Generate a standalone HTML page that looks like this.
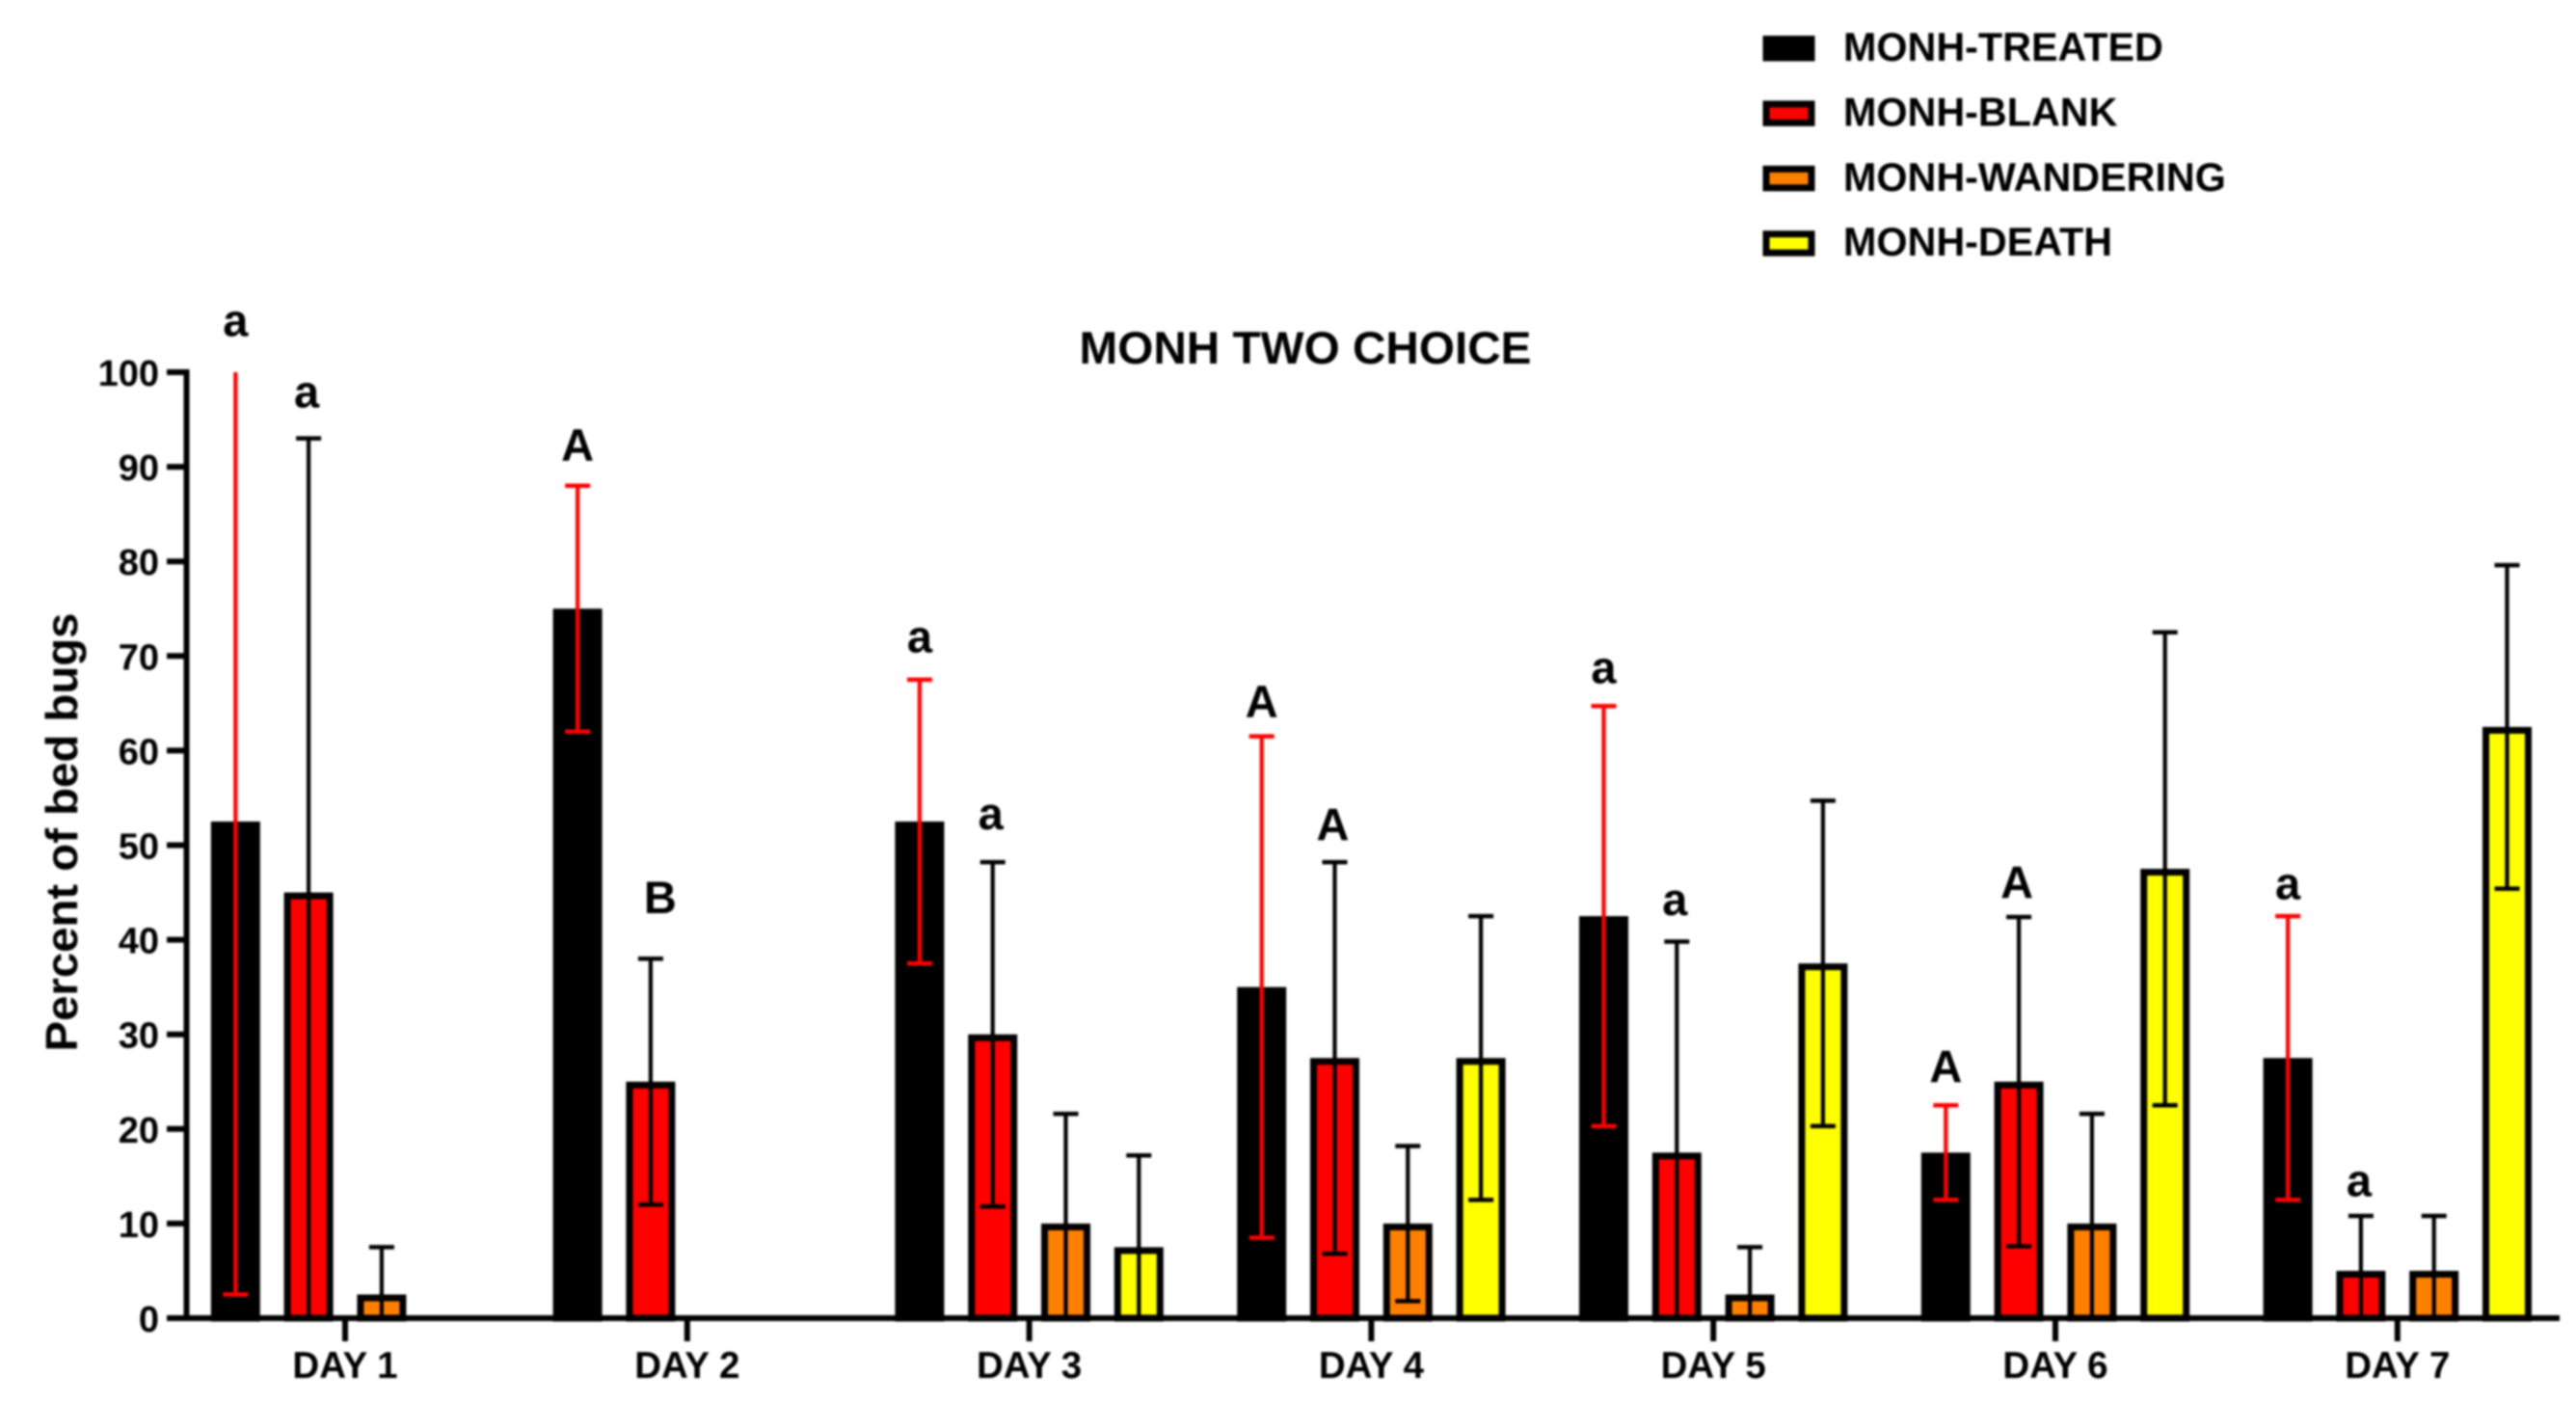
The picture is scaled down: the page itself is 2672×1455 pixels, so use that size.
<!DOCTYPE html>
<html lang="en">
<head>
<meta charset="utf-8">
<title>MONH Two Choice</title>
<style>
html,body{margin:0;padding:0;background:#fff;width:2672px;height:1455px;overflow:hidden}
svg{display:block;filter:blur(1px)}
text{font-family:"Liberation Sans",sans-serif;font-weight:700;fill:#000}
</style>
</head>
<body>
<svg id="chart" xmlns="http://www.w3.org/2000/svg" width="2672" height="1455" viewBox="0 0 2672 1455">
  <rect x="0" y="0" width="2672" height="1455" fill="#fff"/>
  <text x="1354" y="377" font-size="47" text-anchor="middle" textLength="469" lengthAdjust="spacingAndGlyphs">MONH TWO CHOICE</text>
  <text transform="translate(80 863) rotate(-90)" font-size="46" text-anchor="middle" textLength="455" lengthAdjust="spacingAndGlyphs">Percent of bed bugs</text>
  <g id="bars"></g>
  <g id="errors"></g>
  <g id="axes"></g>
  <g id="letters"></g>
  <g id="legend"></g>
</svg>
<script>
const days = ['DAY 1','DAY 2','DAY 3','DAY 4','DAY 5','DAY 6','DAY 7'];
const yTicks = [0,10,20,30,40,50,60,70,80,90,100];
const seriesNames = ['MONH-TREATED','MONH-BLANK','MONH-WANDERING','MONH-DEATH'];

const treatedValues   = [52.5,75,52.5,35,42.5,17.5,27.5];
const blankValues     = [45,25,30,27.5,17.5,25,5];
const wanderingValues = [2.5,0,10,10,2.5,10,5];
const deathValues     = [0,0,7.5,27.5,37.5,47.5,62.5];

const treatedHigh   = [100,88,67.5,61.5,64.7,22.5,42.5];
const treatedLow    = [2.5,62,37.5,8.5,20.3,12.5,12.5];
const blankHigh     = [93,38,48.2,48.2,39.8,42.4,10.8];
const blankLow      = [0,12,11.8,6.8,0,7.6,0];
const wanderingHigh = [7.5,0,21.6,18.2,7.5,21.6,10.8];
const wanderingLow  = [0,0,0,1.8,0,0,0];
const deathHigh     = [0,0,17.2,42.5,54.7,72.5,79.6];
const deathLow      = [0,0,0,12.5,20.3,22.5,45.4];

const treatedLetters = ['a','A','a','A','a','A','a'];
const blankLetters   = ['a','B','a','A','a','A','a'];
const treatedLetterLevels = [103.8,90.6,70.4,63.5,67.1,24.9,44.3];
const blankLetterLevels   = [96.3,42.8,51.7,50.5,42.6,44.4,12.9];

const seriesValues = [treatedValues,blankValues,wanderingValues,deathValues];
const seriesHigh = [treatedHigh,blankHigh,wanderingHigh,deathHigh];
const seriesLow = [treatedLow,blankLow,wanderingLow,deathLow];
const seriesFill = ['#000000','#ff0000','#ff8000','#ffff00'];
const seriesError = ['#ff0000','#000000','#000000','#000000'];
const seriesKeys = ['treated','blank','wandering','death'];

const NS = 'http://www.w3.org/2000/svg';
const Y0 = 1367, Y100 = 386;
function yScale(v){ return Y0 - (v/100)*(Y0-Y100); }
function dayCenter(d){ return 358 + 354.8*d; }
function barCenter(d,s){ return dayCenter(d) + (s-1.5)*75.8; }
function mk(tag,attrs,parent){
  const el = document.createElementNS(NS,tag);
  for(const k in attrs){ el.setAttribute(k,attrs[k]); }
  parent.appendChild(el);
  return el;
}
const gBars = document.getElementById('bars');
const gErrors = document.getElementById('errors');
const gAxes = document.getElementById('axes');
const gLetters = document.getElementById('letters');
const gLegend = document.getElementById('legend');

/* bars */
seriesValues.forEach(function(vals,s){
  vals.forEach(function(v,d){
    if(v<=0) return;
    const c = barCenter(d,s), top = yScale(v);
    const el = mk('rect',{x:c-22,y:top+3.5,width:44,height:Y0-top-3.5,fill:seriesFill[s],stroke:'#000','stroke-width':7},gBars);
    
    
  });
});

/* error bars */
seriesValues.forEach(function(vals,s){
  vals.forEach(function(v,d){
    if(v<=0) return;
    const c = barCenter(d,s), hi = seriesHigh[s][d], lo = seriesLow[s][d];
    const col = seriesError[s];
    const line = mk('line',{x1:c,x2:c,y1:yScale(hi),y2:yScale(lo),stroke:col,'stroke-width':4.2},gErrors);
    
    
    if(hi<100){
      const capHi = mk('line',{x1:c-13,x2:c+13,y1:yScale(hi),y2:yScale(hi),stroke:col,'stroke-width':4.5},gErrors);
      
      
    }
    if(lo>0){
      const capLo = mk('line',{x1:c-13,x2:c+13,y1:yScale(lo),y2:yScale(lo),stroke:col,'stroke-width':4.5},gErrors);
      
      
    }
  });
});

/* axes */
const yLine = mk('line',{x1:193.5,x2:193.5,y1:Y100-3,y2:Y0,stroke:'#000','stroke-width':6},gAxes);


const xLine = mk('line',{x1:173,x2:2655,y1:Y0,y2:Y0,stroke:'#000','stroke-width':6},gAxes);


yTicks.forEach(function(t){
  const y = yScale(t);
  const tick = mk('line',{x1:173,x2:193.5,y1:y,y2:y,stroke:'#000','stroke-width':6},gAxes);
  
  
  const lab = mk('text',{x:165,y:y+14,'font-size':38,'text-anchor':'end'},gAxes);
  lab.textContent = String(t);
  
  
});
days.forEach(function(name,d){
  const x = dayCenter(d);
  const tick = mk('line',{x1:x,x2:x,y1:Y0,y2:Y0+24,stroke:'#000','stroke-width':6},gAxes);
  
  
  const lab = mk('text',{x:x,y:1429,'font-size':38.5,'text-anchor':'middle'},gAxes);
  lab.textContent = name;
  
  
});

/* significance letters */
treatedLetters.forEach(function(ch,d){
  const el = mk('text',{x:barCenter(d,0),y:yScale(treatedLetterLevels[d]),'font-size':47,'text-anchor':'middle'},gLetters);
  el.textContent = ch;
  
  
});
blankLetters.forEach(function(ch,d){
  const el = mk('text',{x:barCenter(d,1)+(ch==='B'?10:-2),y:yScale(blankLetterLevels[d]),'font-size':47,'text-anchor':'middle'},gLetters);
  el.textContent = ch;
  
  
});

/* legend */
seriesNames.forEach(function(name,s){
  const top = 37 + s*67.4;
  const sw = mk('rect',{x:1832,y:top+3.5,width:47,height:19.5,fill:seriesFill[s],stroke:'#000','stroke-width':7},gLegend);
  
  
  const t = mk('text',{x:1912,y:top+26,'font-size':41.3},gLegend);
  t.textContent = name;
  
  
});
</script>
</body>
</html>
